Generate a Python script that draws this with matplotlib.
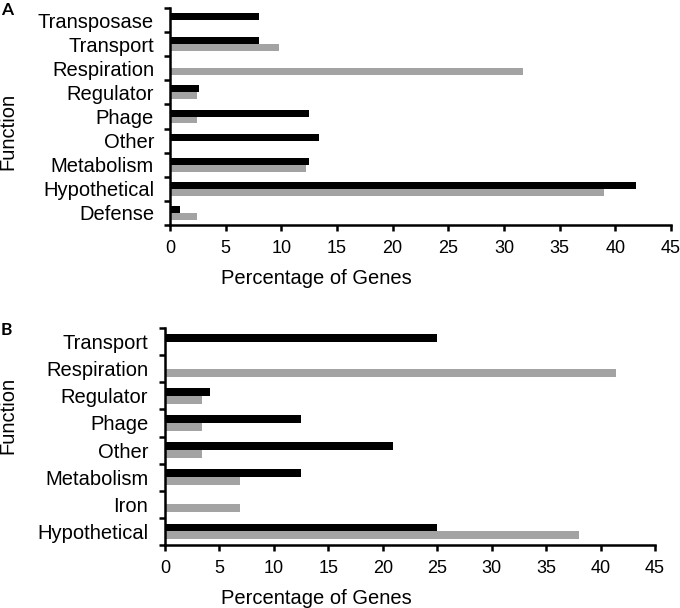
import matplotlib
matplotlib.use("Agg")
import matplotlib.pyplot as plt
import numpy as np

plt.rcParams['font.family'] = ['Liberation Sans', 'DejaVu Sans']

# Panel A data (bottom to top)
cats_a = ["Defense", "Hypothetical", "Metabolism", "Other", "Phage",
          "Regulator", "Respiration", "Transport", "Transposase"]
black_a = [0.9, 41.9, 12.5, 13.4, 12.5, 2.6, 0.0, 8.0, 8.0]
grey_a = [2.4, 39.0, 12.2, 0.0, 2.4, 2.4, 31.7, 9.8, 0.0]

# Panel B data (bottom to top)
cats_b = ["Hypothetical", "Iron", "Metabolism", "Other", "Phage",
          "Regulator", "Respiration", "Transport"]
black_b = [25.0, 0.0, 12.5, 20.9, 12.5, 4.1, 0.0, 25.0]
grey_b = [38.0, 6.9, 6.9, 3.4, 3.4, 3.4, 41.4, 0.0]

xticks = [0, 5, 10, 15, 20, 25, 30, 35, 40, 45]
xlabel = "Percentage of Genes"
ylabel = "Function"

W, H = 680, 608
fig = plt.figure(figsize=(W / 100, H / 100), dpi=100)

BLACK = "#000000"
GREY = "#a3a3a3"


def panel(rect, cats, blk, gry, xlab_x, ypad):
    ax = fig.add_axes(rect)
    n = len(cats)
    y = np.arange(n)
    h = 0.29
    ax.barh(y + h / 2, blk, height=h, color=BLACK, linewidth=0)
    ax.barh(y - h / 2, gry, height=h, color=GREY, linewidth=0)
    ax.set_xlim(0, 45)
    ax.set_ylim(-0.5, n - 0.5)
    ax.set_xticks(xticks)
    ax.set_xticklabels([str(t) for t in xticks], fontsize=13)
    ax.set_yticks(np.arange(n + 1) - 0.5)
    ax.set_yticklabels([""] * (n + 1))
    ax.set_yticks(y, minor=True)
    ax.set_yticklabels(cats, minor=True, fontsize=14.5)
    ax.tick_params(axis='y', which='minor', length=0, pad=ypad)
    ax.tick_params(axis='y', which='major', length=4.5, width=1.8, direction='out')
    ax.tick_params(axis='x', which='major', length=4.5, width=1.8, direction='out', pad=6)
    for s in ['top', 'right']:
        ax.spines[s].set_visible(False)
    for s in ['left', 'bottom']:
        ax.spines[s].set_linewidth(1.8)
    ax.set_xlabel(xlabel, fontsize=14.5, labelpad=5)
    ax.xaxis.set_label_coords(xlab_x, -0.205)
    return ax


ax_a = panel([170 / W, 1 - 225 / H, 501 / W, 217 / H], cats_a, black_a, grey_a,
             (316 - 170) / 501, 11.5)
ax_b = panel([165 / W, 1 - 545 / H, 490 / W, 217 / H], cats_b, black_b, grey_b,
             (316 - 165) / 490, 12)

fig.text(8 / W, 1 - 131 / H, ylabel, rotation=90, ha='center', va='center', fontsize=14.5)
fig.text(8 / W, 1 - 415 / H, ylabel, rotation=90, ha='center', va='center', fontsize=14.5)
fig.text(1 / W, 1 - 10 / H, "A", ha='left', va='center', fontsize=12.5,
         fontweight='bold', family=['Lato', 'DejaVu Sans'])
fig.text(1 / W, 1 - 330 / H, "B", ha='left', va='center', fontsize=12.5,
         fontweight='bold', family=['Lato', 'DejaVu Sans'])

fig.savefig("out.png", dpi=100)
